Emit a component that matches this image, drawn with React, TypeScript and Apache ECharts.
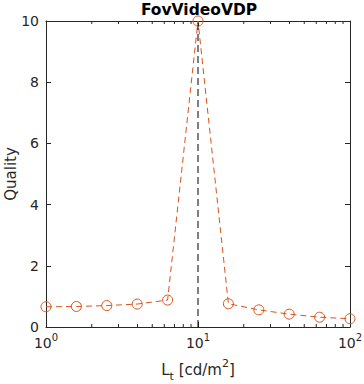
import { useEffect, useRef } from "react";
import * as echarts from "echarts";

const lumValues = [1, 1.585, 2.512, 3.981, 6.31, 10, 15.85, 25.12, 39.81, 63.1, 100];
const quality = [0.66, 0.67, 0.7, 0.75, 0.88, 10, 0.76, 0.56, 0.42, 0.32, 0.27];
const refLineX = [10, 10];
const refLineY = [0, 10];
const minorTickValues = [2, 3, 4, 5, 6, 7, 8, 9, 20, 30, 40, 50, 60, 70, 80, 90];

const FONT = "DejaVu Sans";
const AX = "#262626";
const ORANGE = "#D95319";

export default function App() {
  const ref = useRef<HTMLDivElement>(null);
  useEffect(() => {
    const chart = echarts.init(ref.current!, null, { renderer: "svg" });
    const xBase = {
      type: "log",
      logBase: 10,
      min: 1,
      max: 100,
      splitLine: { show: false },
      axisLine: { show: true, onZero: false, lineStyle: { color: AX, width: 1 } },
      axisTick: { show: true, inside: true, length: 5, lineStyle: { color: AX } },
      minorTick: { show: false },
    };
    const yBase = {
      type: "value",
      min: 0,
      max: 10,
      interval: 2,
      splitLine: { show: false },
      axisLine: { show: true, onZero: false, lineStyle: { color: AX, width: 1 } },
      axisTick: { show: true, inside: true, length: 5, lineStyle: { color: AX } },
    };
    chart.setOption({
      animation: false,
      graphic: [
        {
          type: "text",
          x: 199,
          y: 2,
          style: {
            text: "FovVideoVDP",
            fontFamily: FONT,
            fontSize: 15.5,
            fontWeight: 700,
            fill: "#000",
            align: "center",
            verticalAlign: "top",
          },
        },
      ],
      grid: { left: 46, right: 14, top: 21, bottom: 57, containLabel: false, outerBoundsMode: "none" },
      xAxis: [
        {
          ...xBase,
          position: "bottom",
          name: "{a|L}{sub|t}{a| [cd/m}{sup|2}{a|]}",
          nameLocation: "middle",
          nameGap: 31,
          nameMoveOverlap: false,
          nameTextStyle: {
            fontFamily: FONT,
            color: AX,
            rich: {
              a: { fontFamily: FONT, fontSize: 15, color: AX, verticalAlign: "bottom", lineHeight: 19 },
              sub: { fontFamily: FONT, fontSize: 11, color: AX, verticalAlign: "bottom", padding: [0, 0, -5, 0] },
              sup: { fontFamily: FONT, fontSize: 11, color: AX, verticalAlign: "top" },
            },
          },
          axisLabel: {
            show: true,
            margin: 5,
            formatter: (v: number) => `{b|10}{s|${Math.round(Math.log10(v))}}`,
            rich: {
              b: { fontFamily: FONT, fontSize: 14, color: AX, verticalAlign: "bottom", lineHeight: 18 },
              s: { fontFamily: FONT, fontSize: 10, color: AX, verticalAlign: "top" },
            },
          },
        },
        {
          ...xBase,
          position: "top",
          axisLabel: { show: false },
        },
      ],
      yAxis: [
        {
          ...yBase,
          position: "left",
          name: "Quality",
          nameLocation: "middle",
          nameGap: 28,
          nameMoveOverlap: false,
          nameTextStyle: { fontFamily: FONT, fontSize: 15, color: AX },
          axisLabel: { fontFamily: FONT, fontSize: 14, color: AX, margin: 7 },
        },
        {
          ...yBase,
          position: "right",
          axisLabel: { show: false },
        },
      ],
      series: [
        {
          type: "custom",
          xAxisIndex: 0,
          yAxisIndex: 0,
          silent: true,
          data: minorTickValues.map((v) => [v, 0]),
          encode: { x: 0, y: 1 },
          renderItem: (_params: any, api: any) => {
            const v = api.value(0);
            const b = api.coord([v, 0]);
            const t = api.coord([v, 10]);
            return {
              type: "group",
              children: [
                { type: "line", shape: { x1: b[0], y1: b[1], x2: b[0], y2: b[1] - 3 }, style: { stroke: AX, lineWidth: 1 } },
                { type: "line", shape: { x1: t[0], y1: t[1], x2: t[0], y2: t[1] + 3 }, style: { stroke: AX, lineWidth: 1 } },
              ],
            };
          },
        },
        {
          type: "line",
          xAxisIndex: 0,
          yAxisIndex: 0,
          data: refLineX.map((x, i) => [x, refLineY[i]]),
          symbol: "none",
          clip: false,
          lineStyle: { color: "#000", width: 1, type: [7, 4] },
          z: 3,
        },
        {
          type: "line",
          xAxisIndex: 0,
          yAxisIndex: 0,
          data: lumValues.map((x, i) => [x, quality[i]]),
          symbol: "circle",
          symbolSize: 10,
          clip: false,
          lineStyle: { color: ORANGE, width: 1, type: [6, 4] },
          itemStyle: { color: "transparent", borderColor: ORANGE, borderWidth: 1 },
          z: 2,
        },
      ],
    });
    return () => chart.dispose();
  }, []);
  return <div ref={ref} style={{ width: 364, height: 384, position: "absolute", left: 0, top: 0 }} />;
}
